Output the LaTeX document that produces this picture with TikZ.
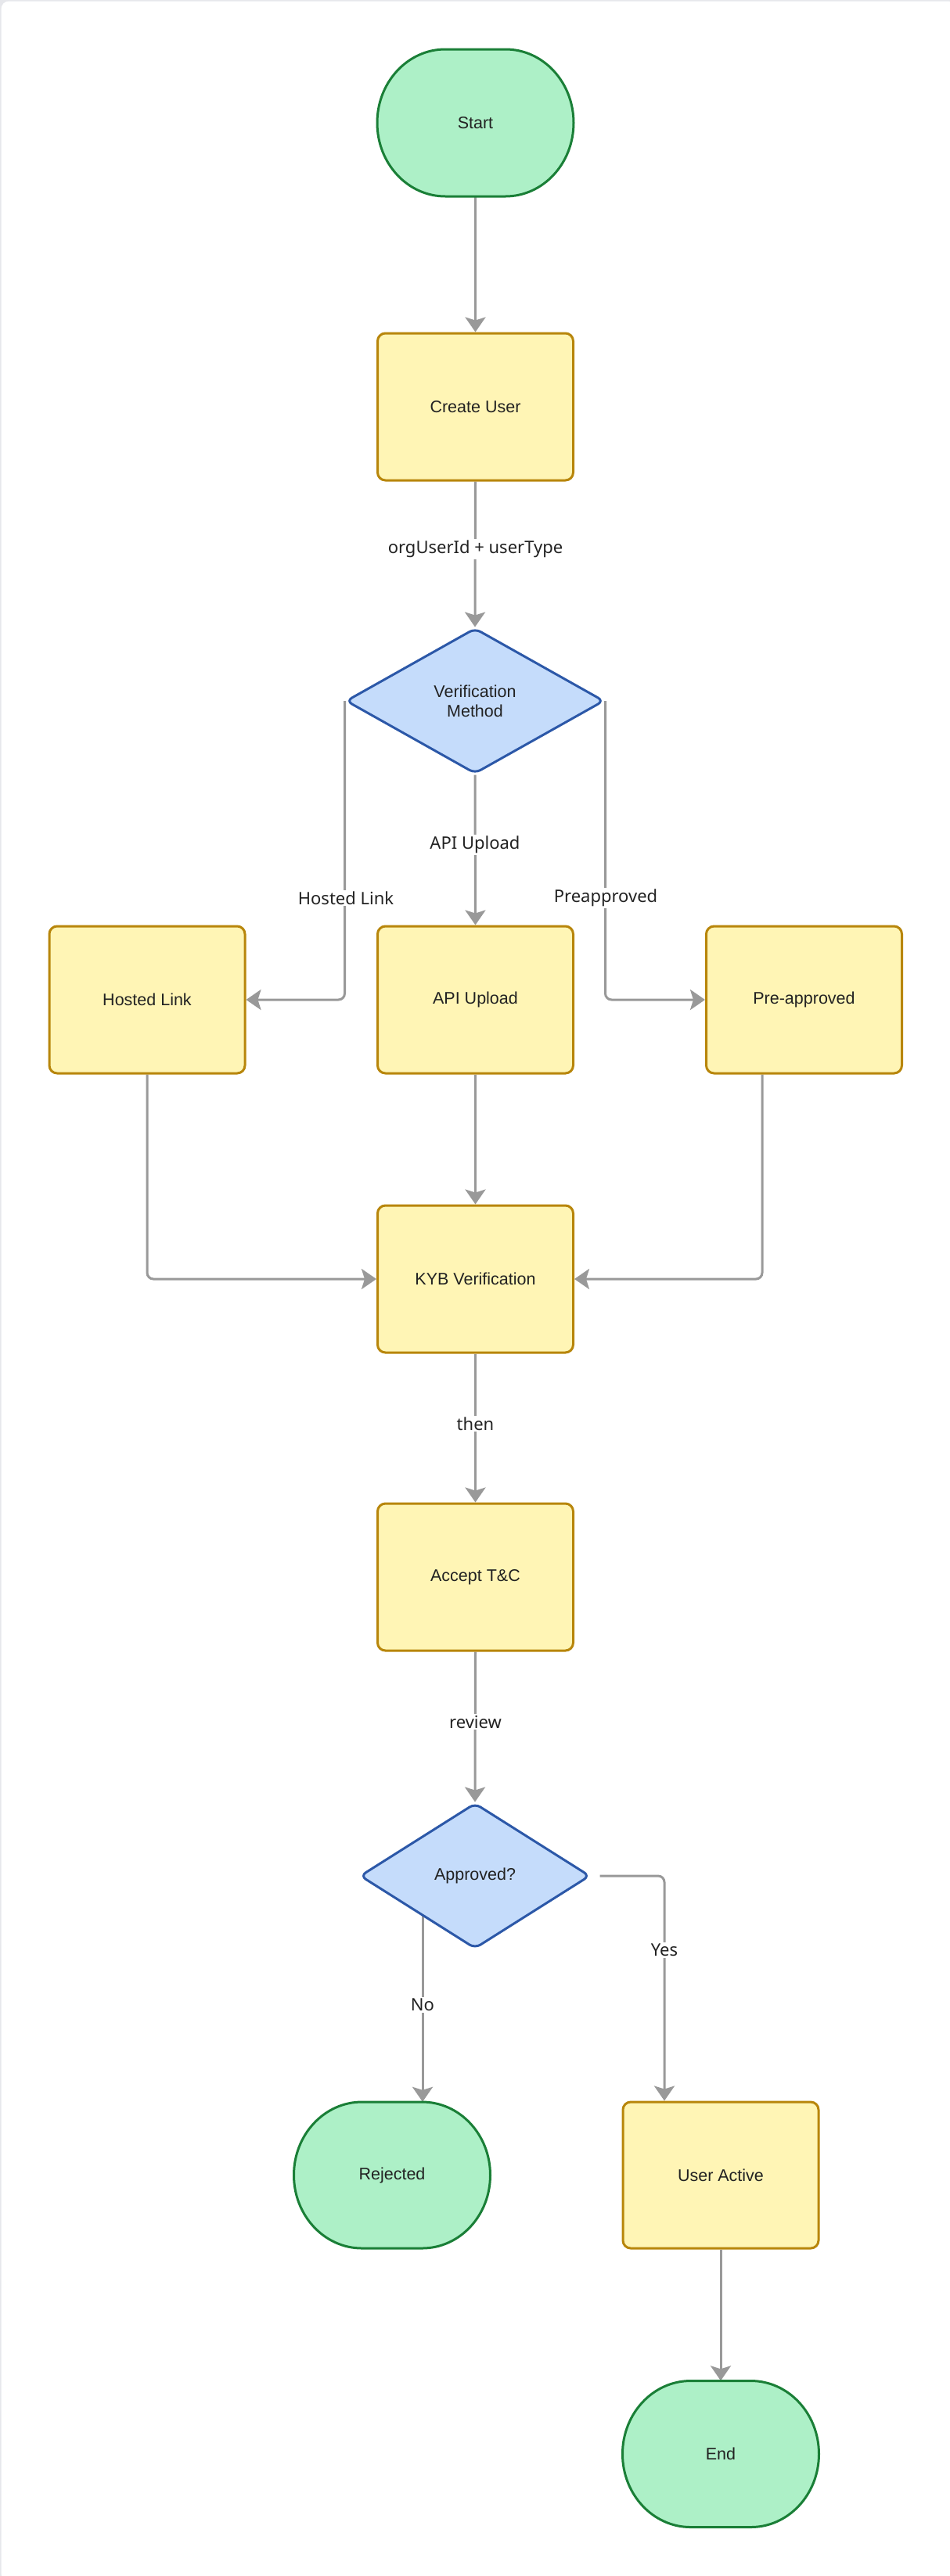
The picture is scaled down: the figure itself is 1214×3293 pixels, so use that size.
\documentclass[tikz,border=0pt]{standalone}
\usepackage{fontspec}
\setmainfont{Liberation Sans}
\newfontfamily\lblfont{Noto Sans}
\usetikzlibrary{arrows.meta,shapes.geometric}
\definecolor{termfill}{HTML}{ADF0C7}
\definecolor{termdraw}{HTML}{1A7F37}
\definecolor{boxfill}{HTML}{FFF5B5}
\definecolor{boxdraw}{HTML}{B8860B}
\definecolor{diafill}{HTML}{C5DCFB}
\definecolor{diadraw}{HTML}{2C58A8}
\definecolor{edgecol}{HTML}{999999}
\definecolor{txt}{HTML}{222222}
\definecolor{framecol}{HTML}{E6E7EB}
\pgfdeclarelayer{background}
\pgfsetlayers{background,main}
\tikzset{
  base/.style={font=\fontsize{21.5}{25}\selectfont, text=txt, align=center, inner sep=0pt},
  box/.style={base, rectangle, rounded corners=10pt, draw=boxdraw, fill=boxfill, line width=3pt, minimum width=250pt, minimum height=188pt},
  termtxt/.style={base, rectangle, minimum width=251pt, minimum height=188pt},
  termshape/.style={draw=termdraw, fill=termfill, line width=3pt},
  dia/.style={base, diamond, rounded corners=8pt, draw=diadraw, fill=diafill, line width=3pt},
  lbl/.style={font=\lblfont\fontsize{22}{26}\selectfont, text=txt, fill=white, inner sep=2pt},
  conn/.style={draw=edgecol, line width=3pt, -{Stealth[length=19pt,width=26pt,inset=4pt]}, rounded corners=8pt},
}
% #1 = centre x, #2 = centre y (pixels, downwards), #3 = half height
\newcommand\termpath[3]{%
  \path[termshape] (#1-38.5,-#2+#3) -- (#1+38.5,-#2+#3)
    arc[start angle=90,end angle=-90,x radius=87pt,y radius=#3pt]
    -- (#1-38.5,-#2-#3)
    arc[start angle=270,end angle=90,x radius=87pt,y radius=#3pt] -- cycle;}
\begin{document}
\begin{tikzpicture}[x=1pt,y=1pt]
\useasboundingbox (0,0) rectangle (1214,-3293);
\begin{pgfonlayer}{background}
  \fill[framecol] (0,0) rectangle (1214,-3293);
  \fill[white, rounded corners=10pt] (1.5,-1.5) rectangle (1222,-3300);
\end{pgfonlayer}

% terminals
\termpath{607.5}{157}{94}
\node[termtxt] (start) at (607.5,-157) {Start};

\node[box] (cu) at (607.5,-520) {Create User};

\node[dia, minimum width=330pt, minimum height=186pt, aspect=1.77] (vm) at (607,-896) {Verification\\Method};

\node[box] (hl) at (188,-1278) {Hosted Link};
\node[box] (api) at (607.5,-1278) {API Upload};
\node[box] (pa) at (1027.5,-1278) {Pre-approved};

\node[box] (kyb) at (607.5,-1635) {KYB Verification};
\node[box] (ac) at (607.5,-2016) {Accept T\&C};

\node[dia, minimum width=294pt, minimum height=186pt, aspect=1.58] (ap) at (607,-2398) {Approved?};

\termpath{501}{2780.5}{93.5}
\node[termtxt, minimum height=187pt] (rj) at (501,-2780.5) {Rejected};
\node[box, minimum height=187pt] (ua) at (921,-2780.5) {User Active};
\termpath{921}{3137}{93.5}
\node[termtxt, minimum height=187pt] (end) at (921,-3137) {End};

\path ([xshift=-67pt]ap.center) coordinate (nostart);

\begin{pgfonlayer}{background}
  \draw[conn] (start.south) -- (cu.north);
  \draw[conn] (cu.south) -- (vm.north);
  \draw[conn] (vm.west) |- (hl.east);
  \draw[conn] (vm.south) -- (api.north);
  \draw[conn] (vm.east) |- (pa.west);
  \draw[conn] (hl.south) |- (kyb.west);
  \draw[conn] (api.south) -- (kyb.north);
  \draw[conn] ([xshift=-53.5pt]pa.south) |- (kyb.east);
  \draw[conn] (kyb.south) -- (ac.north);
  \draw[conn] (ac.south) -- (ap.north);
  \draw[conn] (nostart) -- (nostart |- rj.north);
  \draw[conn] ([xshift=11pt]ap.east) -| ([xshift=-72pt]ua.north);
  \draw[conn] (ua.south) -- (end.north);
\end{pgfonlayer}

% edge labels
\node[lbl] (l1) at (607.5,-702) {orgUserId + userType};
\node[lbl] (l2) at (442,-1148) {Hosted Link};
\node[lbl] (l3) at (607,-1080) {API Upload};
\node[lbl] (l4) at (774,-1148) {Preapproved};
\node[lbl] (l5) at (607.5,-1820) {then};
\node[lbl] (l6) at (607.5,-2201) {review};
\node[lbl] (l7) at (540,-2563) {No};
\node[lbl] (l8) at (849,-2493) {Yes};
\end{tikzpicture}
\end{document}
